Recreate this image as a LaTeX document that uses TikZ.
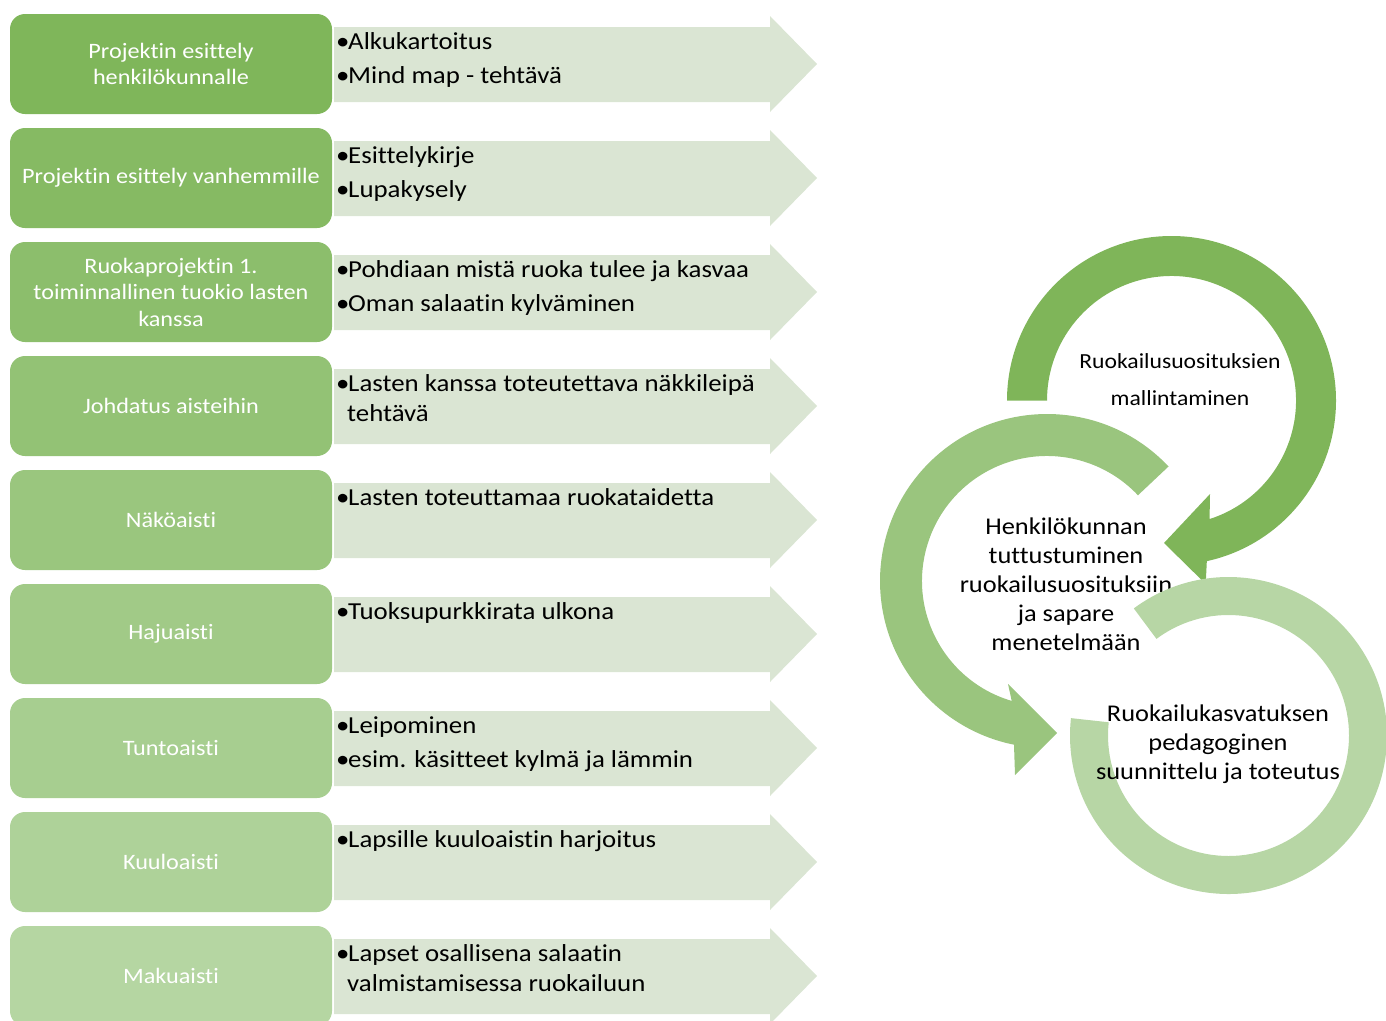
\documentclass[tikz,border=0pt]{standalone}
\usepackage{fontspec}
\setmainfont{Carlito}[FakeStretch=1.1, Ligatures=NoCommon]
\usetikzlibrary{calc}
\definecolor{cA}{RGB}{127,182,90}
\definecolor{cB}{RGB}{181,214,162}
\definecolor{arr}{RGB}{218,229,211}
\definecolor{cdark}{RGB}{127,181,89}
\definecolor{cmid}{RGB}{154,197,126}
\definecolor{clight}{RGB}{183,214,165}
\newcommand\bul{\makebox[12pt][l]{•}}
\newcommand\prow[3]{%
  \pgfmathsetmacro\tp{14+114*(#1-1)}%
  \pgfmathsetmacro\pc{100-12.5*(#1-1)}%
  \node[box, fill=cA!\pc!cB] (b#1) at (171,-\tp-50) {#2};
  \fill[arr] (334,-\tp-13) -- (770,-\tp-13) -- (770,-\tp-2) -- (817,-\tp-50)
     -- (770,-\tp-98) -- (770,-\tp-88) -- (334,-\tp-88) -- cycle;
  \node[atxt] (t#1) at (336,-\tp-15) {\rule{0pt}{20pt}#3};
}
\begin{document}
\begin{tikzpicture}[x=1pt,y=1pt,
  box/.style={rounded corners=15pt, minimum width=322pt, minimum height=100pt,
    text=white, align=center, font=\fontsize{22}{26.5}\selectfont, inner sep=0pt},
  atxt/.style={anchor=north west, align=left, font=\fontsize{24.4}{34}\selectfont, inner sep=0pt},
  ctxt/.style={align=center, font=\fontsize{24}{29}\selectfont, inner sep=0pt}]
\useasboundingbox (0,0) rectangle (1386,-1020);
\clip (0,0) rectangle (1386,-1020);

\prow{1}{Projektin esittely\\henkilökunnalle}{\bul Alkukartoitus\\\bul Mind map - tehtävä}
\prow{2}{Projektin esittely vanhemmille}{\bul Esittelykirje\\\bul Lupakysely}
\prow{3}{Ruokaprojektin 1.\\toiminnallinen tuokio lasten\\kanssa}{\bul Pohdiaan mistä ruoka tulee ja kasvaa\\\bul Oman salaatin kylväminen}
\prow{4}{Johdatus aisteihin}{\bul Lasten kanssa toteutettava näkkileipä\\[-4pt]\hspace*{11pt}tehtävä}
\prow{5}{Näköaisti}{\bul Lasten toteuttamaa ruokataidetta}
\prow{6}{Hajuaisti}{\bul Tuoksupurkkirata ulkona}
\prow{7}{Tuntoaisti}{\bul Leipominen\\\bul esim. käsitteet kylmä ja lämmin}
\prow{8}{Kuuloaisti}{\bul Lapsille kuuloaistin harjoitus}
\prow{9}{Makuaisti}{\bul Lapset osallisena salaatin\\[-4pt]\hspace*{11pt}valmistamisessa ruokailuun}

% dark circular arrow
\begin{scope}[shift={(1171.5,-400.5)}]
  \fill[cdark] (180:164.5) arc[start angle=180, end angle=-77.6, radius=164.5]
    -- (34.2,-183.5) -- (-7.5,-142.5) -- (38.5,-93.5)
    -- (-72.2:124.5) arc[start angle=-72.2, end angle=180, radius=124.5] -- cycle;
\end{scope}
% middle circular arrow
\begin{scope}[shift={(1047,-581)}]
  \fill[cmid] (43.3:167) arc[start angle=43.3, end angle=258.6, radius=167]
    -- (-32,-194) -- (10,-152) -- (-39,-103)
    -- (253.6:125) arc[start angle=253.6, end angle=43.3, radius=125] -- cycle;
\end{scope}

\node[ctxt, font=\fontsize{21.5}{37}\selectfont] (c1) at (1180,-379.5) {Ruokailusuosituksien\\mallintaminen};
\node[ctxt] (c2) at (1066,-584.5) {Henkilökunnan\\tuttustuminen\\ruokailusuosituksiin\\ja sapare\\menetelmään};

% light circular arc
\begin{scope}[shift={(1228.5,-735.5)}]
  \fill[clight] (173.7:158.5) arc[start angle=173.7, end angle=486.7, radius=158.5]
    -- (486.7:120.5) arc[start angle=486.7, end angle=173.7, radius=120.5] -- cycle;
\end{scope}

\node[ctxt] (c3) at (1218,-744) {Ruokailukasvatuksen\\pedagoginen\\suunnittelu ja toteutus};
\end{tikzpicture}
\end{document}
